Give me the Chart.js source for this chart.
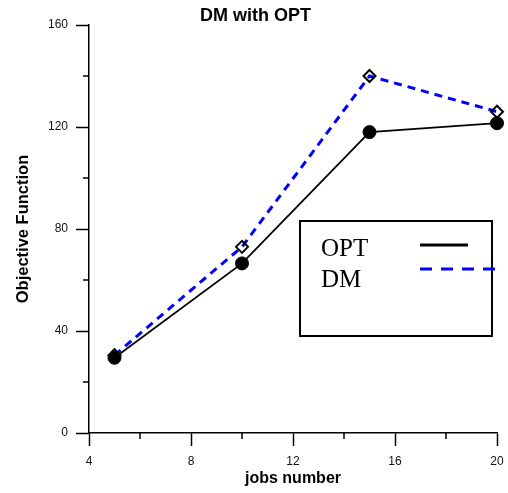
<!DOCTYPE html>
<html>
<head>
<meta charset="utf-8">
<title>DM with OPT</title>
<script src="https://cdn.jsdelivr.net/npm/chart.js@4/dist/chart.umd.min.js"></script>
<style>
  body { margin: 0; background: #fff; }
  #wrap { width: 508px; height: 493px; }
</style>
</head>
<body>
<div id="wrap"><canvas id="chart" width="508" height="493"></canvas></div>
<script>
// values
const jobs = [5, 10, 15, 20];
const optValues = [29.5, 66.5, 118, 121.5];
const dmValues = [30.5, 73, 140, 126];
const xTicks = [4, 8, 12, 16, 20];
const yTicks = [0, 40, 80, 120, 160];

const toPoints = (vals) => vals.map((v, i) => ({ x: jobs[i], y: v }));

// short ticks half way between the labelled ones
const minorTicks = {
    id: 'minorTicks',
    afterDraw(chart) {
        const { ctx } = chart;
        const xs = chart.scales.x;
        const ys = chart.scales.y;
        ctx.save();
        ctx.strokeStyle = '#000';
        ctx.lineWidth = 1.5;
        ctx.beginPath();
        for (let i = 1; i < xs.ticks.length; i++) {
            const px = xs.getPixelForValue((xs.ticks[i - 1].value + xs.ticks[i].value) / 2);
            ctx.moveTo(px, xs.top);
            ctx.lineTo(px, xs.top + 6);
        }
        for (let i = 1; i < ys.ticks.length; i++) {
            const py = ys.getPixelForValue((ys.ticks[i - 1].value + ys.ticks[i].value) / 2);
            ctx.moveTo(ys.right - 6, py);
            ctx.lineTo(ys.right, py);
        }
        ctx.stroke();
        ctx.restore();
    }
};

// boxed legend: name on the left, line sample on the right
const boxLegend = {
    id: 'boxLegend',
    afterDraw(chart, args, opts) {
        const { ctx } = chart;
        ctx.save();
        ctx.strokeStyle = '#000';
        ctx.lineWidth = 2;
        ctx.strokeRect(opts.left, opts.top, opts.width, opts.height);
        ctx.font = opts.font;
        ctx.fillStyle = '#000';
        ctx.textBaseline = 'alphabetic';
        chart.data.datasets.forEach((ds, i) => {
            const base = opts.top + opts.firstBaseline + i * opts.rowHeight;
            ctx.fillText(ds.label, opts.left + opts.textX, base);
            ctx.beginPath();
            ctx.setLineDash(opts.dash[i]);
            ctx.strokeStyle = ds.borderColor;
            ctx.lineWidth = 3;
            ctx.moveTo(opts.left + opts.lineX, base + opts.lineOffset[i]);
            ctx.lineTo(opts.left + opts.lineX + opts.lineLen[i], base + opts.lineOffset[i]);
            ctx.stroke();
        });
        ctx.restore();
    }
};

const axisFont = { family: 'Liberation Sans', size: 12 };
const titleFont = { family: 'Liberation Sans', size: 16, weight: 'bold' };

new Chart(document.getElementById('chart'), {
    type: 'line',
    data: {
        datasets: [{
            label: 'OPT',
            data: toPoints(optValues),
            borderColor: '#000',
            borderWidth: 1.8,
            pointStyle: 'circle',
            pointRadius: 6.5,
            pointBackgroundColor: '#000',
            pointBorderColor: '#000',
            pointBorderWidth: 1,
            clip: false
        }, {
            label: 'DM',
            data: toPoints(dmValues),
            borderColor: '#0000ff',
            borderWidth: 3,
            borderDash: [8, 6],
            pointStyle: 'rectRot',
            pointRadius: 6,
            pointBackgroundColor: 'rgba(255,255,255,0)',
            pointBorderColor: '#000',
            pointBorderWidth: 2,
            clip: false
        }]
    },
    options: {
        responsive: false,
        animation: false,
        devicePixelRatio: 1,
        layout: { padding: { left: 14, right: 11, top: 0, bottom: 0 } },
        plugins: {
            legend: { display: false },
            tooltip: { enabled: false },
            title: {
                display: true,
                text: 'DM with OPT',
                color: '#000',
                font: { family: 'Liberation Sans', size: 18, weight: 'bold', lineHeight: 1 },
                padding: { top: 7, bottom: 0 }
            },
            boxLegend: {
                left: 300, top: 221, width: 192, height: 115,
                font: '25px "Liberation Serif"',
                textX: 21, firstBaseline: 35, rowHeight: 31,
                lineX: 120, lineLen: [48, 75], lineOffset: [-11, -18],
                dash: [[], [12, 9]]
            }
        },
        scales: {
            x: {
                type: 'linear',
                min: 4,
                max: 20,
                afterBuildTicks: (s) => { s.ticks = xTicks.map(v => ({ value: v })); },
                afterFit: (s) => { s.height = 60; s.paddingLeft = 0; s.paddingRight = 7; },
                ticks: { color: '#111', font: axisFont, padding: 8, maxRotation: 0 },
                grid: { drawOnChartArea: false, drawTicks: true, tickLength: 13, tickColor: '#000', tickWidth: 1.5 },
                border: { color: '#000', width: 1.5 },
                title: { display: true, text: 'jobs number', color: '#000', font: titleFont, padding: { top: 0, bottom: 5 } }
            },
            y: {
                min: 0,
                max: 160,
                afterBuildTicks: (s) => { s.ticks = yTicks.map(v => ({ value: v })); },
                afterFit: (s) => { s.width = 75; },
                ticks: { color: '#111', font: axisFont, padding: 8 },
                grid: { drawOnChartArea: false, drawTicks: true, tickLength: 13, tickColor: '#000', tickWidth: 1.5 },
                border: { color: '#000', width: 1.5 },
                title: { display: true, text: 'Objective Function', color: '#000', font: { family: 'Liberation Sans', size: 16.5, weight: 'bold' }, padding: { top: 0, bottom: 0 } }
            }
        }
    },
    plugins: [minorTicks, boxLegend]
});
</script>
</body>
</html>
